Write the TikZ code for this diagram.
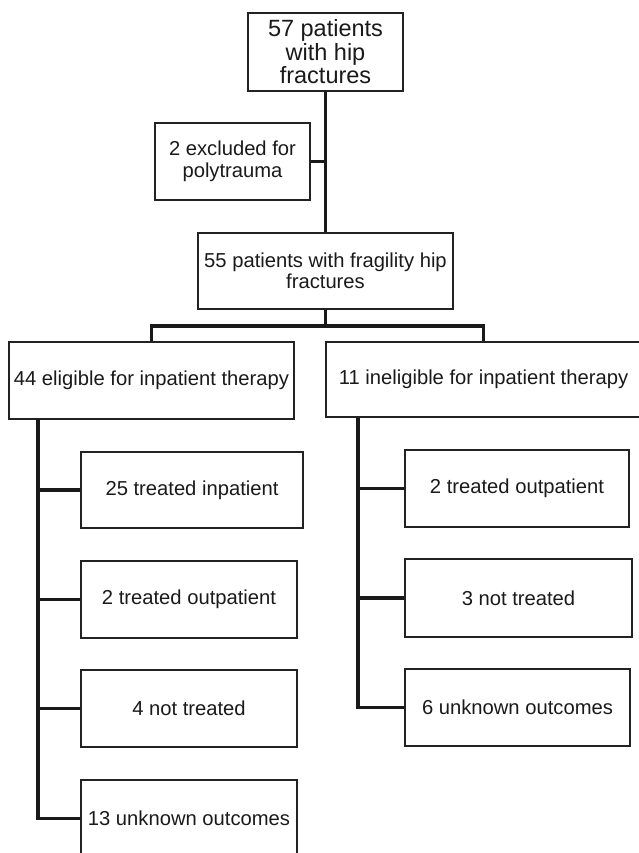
\documentclass[tikz,border=0pt]{standalone}
\usepackage{fontspec}
\setmainfont{Liberation Sans}
\definecolor{ink}{HTML}{1A1A1A}
\definecolor{edge}{HTML}{222222}
\begin{document}
\begin{tikzpicture}[x=1pt,y=-1pt,
  box/.style={draw=edge, line width=1.5pt, fill=white, inner sep=0pt, align=center,
    text=ink, font=\fontsize{20.2}{21.5}\selectfont, rectangle},
  bigbox/.style={box, font=\fontsize{23.5}{23.5}\selectfont},
  conn/.style={draw=black!90, line width=3.6pt, line join=miter}]
\clip (0,0) rectangle (639,853);
\fill[white] (0,0) rectangle (639,853);

\node[bigbox, minimum width=155, minimum height=78] (top) at (325.5,52) {57 patients\\with hip\\fractures};
\node[box, minimum width=155, minimum height=77] (excl) at (232.5,161.5) {2 excluded for\\polytrauma};
\node[box, minimum width=255, minimum height=76] (mid) at (325.5,271) {55 patients with fragility hip\\fractures};
\node[box, minimum width=285, minimum height=77] (left) at (151.5,380.5) {44 eligible for inpatient therapy};
\node[box, minimum width=315, minimum height=75] (right) at (483.5,379.5) {11 ineligible for inpatient therapy};

\node[box, minimum width=222, minimum height=76] (l1) at (192,490) {25 treated inpatient};
\node[box, minimum width=216, minimum height=77] (l2) at (189,599.5) {2 treated outpatient};
\node[box, minimum width=216, minimum height=77] (l3) at (189,708.5) {4 not treated};
\node[box, minimum width=216, minimum height=77] (l4) at (189,818.5) {13 unknown outcomes};

\node[box, minimum width=224, minimum height=77] (r1) at (517,488.5) {2 treated outpatient};
\node[box, minimum width=227, minimum height=78] (r2) at (518.5,598) {3 not treated};
\node[box, minimum width=225, minimum height=77] (r3) at (517.5,707.5) {6 unknown outcomes};

\draw[conn] (top.south) -- (mid.north);
\draw[conn] (excl.east) -- (excl.east -| top.south);
\coordinate (bar) at (325.5,326);
\draw[conn] (mid.south) -- (bar);
\draw[conn] (left.north) |- (bar) -| (right.north);

\coordinate (lt) at (38,419);
\draw[conn] (lt) |- (l4.west);
\foreach \n in {l1,l2,l3} \draw[conn] (\n.west) -- (\n.west -| lt);

\coordinate (rt) at (358,418);
\draw[conn] (rt) |- (r3.west);
\foreach \n in {r1,r2} \draw[conn] (\n.west) -- (\n.west -| rt);
\end{tikzpicture}
\end{document}
